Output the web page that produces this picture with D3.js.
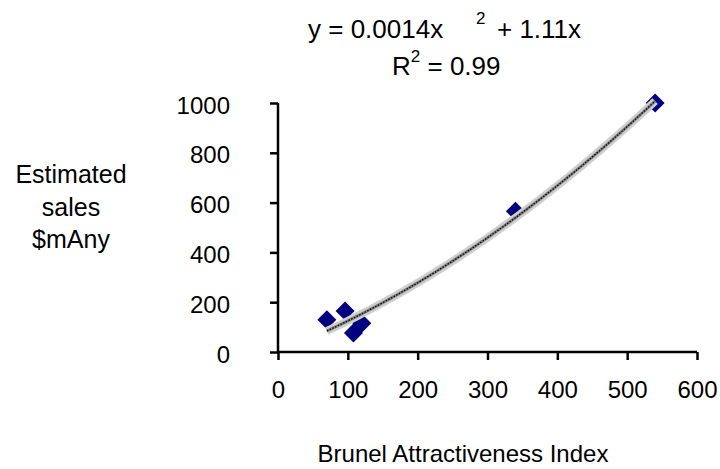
<!DOCTYPE html>
<html>
<head>
<meta charset="utf-8">
<script src="https://cdn.jsdelivr.net/npm/d3@7"></script>
<style>
  html, body { margin: 0; padding: 0; background: #fff; }
  text { font-family: "Liberation Sans", Arial, sans-serif; fill: #000; }
</style>
</head>
<body>
<svg id="main-svg"></svg>
<script>
// --- data ---
const attractiveness = [70, 96, 108, 120, 340, 540];
const sales = [130, 165, 76, 115, 565, 1000];
const xTicks = [0, 100, 200, 300, 400, 500, 600];
const yTicks = [0, 200, 400, 600, 800, 1000];
const trendCoef = [0.0014, 1.11];   // y = a x^2 + b x
const trendRange = [70, 540];
const yLabelLines = ["Estimated", "sales", "$mAny"];
const xLabel = "Brunel Attractiveness Index";

// --- setup ---
const width = 720, height = 469;
const svg = d3.select("#main-svg")
  .attr("width", width)
  .attr("height", height)
  .style("background-color", "#fff");

const x = d3.scaleLinear().domain([0, 600]).range([278, 697]);
const y = d3.scaleLinear().domain([0, 1000]).range([352, 103]);

// axes
const xAxis = svg.append("g").attr("transform", `translate(0,${y(0)})`)
  .call(d3.axisBottom(x).tickValues(xTicks).tickSize(8).tickFormat(d3.format("d")));
const yAxis = svg.append("g").attr("transform", `translate(${x(0)},0)`)
  .call(d3.axisLeft(y).tickValues(yTicks).tickSize(8).tickFormat(d3.format("d")));

[xAxis, yAxis].forEach(a => {
  a.select(".domain").attr("stroke", "#000").attr("stroke-width", 2.5);
  a.selectAll(".tick line").attr("stroke", "#000").attr("stroke-width", 2.5);
  a.selectAll(".tick text").attr("font-size", 24).attr("font-family", "Liberation Sans, Arial, sans-serif");
});
// no outer tick stubs on the domain lines
xAxis.select(".domain").attr("d", `M${x(0)},0H${x(600)}`);
yAxis.select(".domain").attr("d", `M0,${y(0)}V${y(1000)}`);

xAxis.selectAll(".tick text").attr("y", 0).attr("dy", 46);
yAxis.selectAll(".tick text").attr("x", -48).attr("dy", 10);

// markers
const diamond = r => `M0,${-r}L${r},0L0,${r}L${-r},0Z`;
svg.append("g")
  .selectAll("path")
  .data(attractiveness.map((v, i) => [v, sales[i]]))
  .enter().append("path")
  .attr("transform", d => `translate(${x(d[0])},${y(d[1])})`)
  .attr("d", diamond(9.5))
  .attr("fill", "#000080");

// trendline (drawn over the markers, like the original)
const trendPts = d3.range(trendRange[0], trendRange[1] + 1, 5)
  .map(v => [v, trendCoef[0] * v * v + trendCoef[1] * v]);
const line = d3.line().x(d => x(d[0])).y(d => y(d[1])).curve(d3.curveMonotoneX);
svg.append("path").datum(trendPts)
  .attr("d", line).attr("fill", "none")
  .attr("stroke", "#cfcfcf").attr("stroke-width", 8);
svg.append("path").datum(trendPts)
  .attr("d", line).attr("fill", "none")
  .attr("stroke", "#808080").attr("stroke-width", 3);
svg.append("path").datum(trendPts)
  .attr("d", line).attr("fill", "none")
  .attr("stroke", "#000").attr("stroke-width", 1.2)
  .attr("stroke-dasharray", "1.5,1.5");

// equation label
const eq = svg.append("text").attr("x", 308).attr("y", 38).attr("font-size", 26);
eq.append("tspan").text("y = 0.0014x");
eq.append("tspan").attr("x", 476).attr("dy", -14).attr("font-size", 17).text("2");
eq.append("tspan").attr("x", 497).attr("dy", 14).text("+ 1.11x");

const r2 = svg.append("text").attr("x", 392).attr("y", 75).attr("font-size", 26);
r2.append("tspan").text("R");
r2.append("tspan").attr("dy", -13).attr("font-size", 17).text("2");
r2.append("tspan").attr("dy", 13).text(" = 0.99");

// y label
svg.append("g").selectAll("text")
  .data(yLabelLines)
  .enter().append("text")
  .attr("x", 71)
  .attr("y", (d, i) => 183 + i * 32.5)
  .attr("text-anchor", "middle")
  .attr("font-size", 25)
  .text(d => d);

// x label
svg.append("text")
  .attr("x", 463).attr("y", 462)
  .attr("text-anchor", "middle")
  .attr("font-size", 24)
  .text(xLabel);
</script>
</body>
</html>
